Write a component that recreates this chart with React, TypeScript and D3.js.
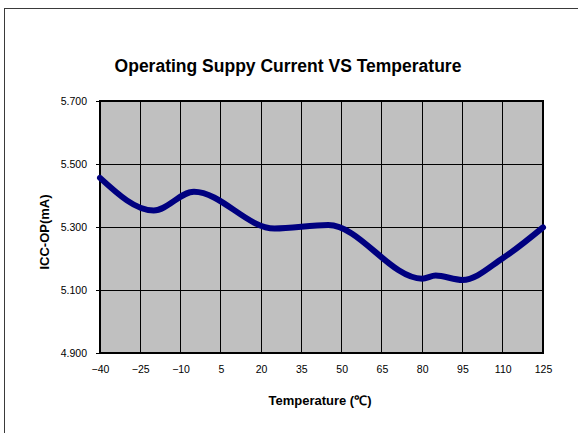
import * as d3 from "d3";
import { useEffect, useRef } from "react";

// Temperature axis labels (°C)
const tempTicks = [-40, -25, -10, 5, 20, 35, 50, 65, 80, 95, 110, 125];
// Y axis labels (mA)
const currentTicks = [4.9, 5.1, 5.3, 5.5, 5.7];

const temps = [-40, -20, -5, 25, 45, 80, 85, 95, 110, 125];
const iccOp = [5.456, 5.352, 5.412, 5.295, 5.306, 5.136, 5.146, 5.132, 5.201, 5.299];

export default function App() {
  const svgRef = useRef<SVGSVGElement | null>(null);

  const width = 578;
  const height = 433;

  useEffect(() => {
    const svg = d3.select(svgRef.current);
    svg.selectAll("*").remove();

    const font = "Liberation Sans, Arial, sans-serif";
    const margin = { top: 101, left: 100 };
    const plotWidth = 543 - margin.left;
    const plotHeight = 353 - margin.top;

    const xScale = d3.scaleLinear().domain([-40, 125]).range([0, plotWidth]);
    const yScale = d3.scaleLinear().domain([4.9, 5.7]).range([plotHeight, 0]);

    // outer chart frame (only top and left edges show)
    svg
      .append("rect")
      .attr("x", 4.5)
      .attr("y", 8.5)
      .attr("width", 700)
      .attr("height", 600)
      .attr("fill", "#fff")
      .attr("stroke", "#3a3a3a")
      .attr("stroke-width", 1);

    // title
    svg
      .append("text")
      .attr("x", 288)
      .attr("y", 72)
      .attr("text-anchor", "middle")
      .style("font-family", font)
      .style("font-size", "17.5px")
      .style("font-weight", "bold")
      .text("Operating Suppy Current VS Temperature");

    const plotArea = svg
      .append("g")
      .attr("transform", `translate(${margin.left},${margin.top})`);

    plotArea
      .append("rect")
      .attr("width", plotWidth)
      .attr("height", plotHeight)
      .attr("fill", "#c0c0c0");

    // vertical grid
    plotArea
      .selectAll("line.vgrid")
      .data(tempTicks)
      .enter()
      .append("line")
      .attr("class", "vgrid")
      .attr("x1", (d) => xScale(d))
      .attr("x2", (d) => xScale(d))
      .attr("y1", 0)
      .attr("y2", plotHeight)
      .attr("stroke", "#000")
      .attr("stroke-width", 1)
      .attr("shape-rendering", "crispEdges");

    // y axis with gridlines
    const yAxis = d3
      .axisLeft(yScale)
      .tickValues(currentTicks)
      .tickSize(-plotWidth - 4)
      .tickFormat(d3.format(".3f"));

    const yAxisGroup = plotArea
      .append("g")
      .attr("transform", "translate(-4,0)")
      .call(yAxis);
    yAxisGroup.select(".domain").remove();
    yAxisGroup
      .selectAll("line")
      .attr("stroke", "#000")
      .attr("shape-rendering", "crispEdges");
    yAxisGroup
      .selectAll("text")
      .attr("x", -9)
      .style("font-family", font)
      .style("font-size", "10.5px")
      .attr("fill", "#000");

    // x axis labels
    const xAxis = d3.axisBottom(xScale).tickValues(tempTicks).tickSize(0).tickPadding(13);
    const xAxisGroup = plotArea
      .append("g")
      .attr("transform", `translate(0,${plotHeight})`)
      .call(xAxis);
    xAxisGroup.select(".domain").remove();
    xAxisGroup
      .selectAll("text")
      .style("font-family", font)
      .style("font-size", "10.5px")
      .attr("fill", "#000");

    // plot border
    plotArea
      .append("rect")
      .attr("width", plotWidth)
      .attr("height", plotHeight)
      .attr("fill", "none")
      .attr("stroke", "#000")
      .attr("stroke-width", 2);

    // data line
    const line = d3
      .line<number>()
      .x((d) => xScale(d))
      .y((d, i) => yScale(iccOp[i]))
      .curve(d3.curveMonotoneX);

    plotArea
      .append("path")
      .datum(temps)
      .attr("fill", "none")
      .attr("stroke", "#000080")
      .attr("stroke-width", 6)
      .attr("stroke-linecap", "round")
      .attr("stroke-linejoin", "round")
      .attr("d", line);

    // axis titles
    svg
      .append("text")
      .attr("x", 320)
      .attr("y", 405)
      .attr("text-anchor", "middle")
      .style("font-family", font)
      .style("font-size", "13px")
      .style("font-weight", "bold")
      .text("Temperature (℃)");

    svg
      .append("text")
      .attr("transform", "translate(49,232) rotate(-90)")
      .attr("text-anchor", "middle")
      .style("font-family", font)
      .style("font-size", "13px")
      .style("font-weight", "bold")
      .text("ICC-OP(mA)");
  }, []);

  return (
    <svg
      ref={svgRef}
      width={width}
      height={height}
      style={{ position: "absolute", left: 0, top: 0, background: "#fff" }}
    ></svg>
  );
}
